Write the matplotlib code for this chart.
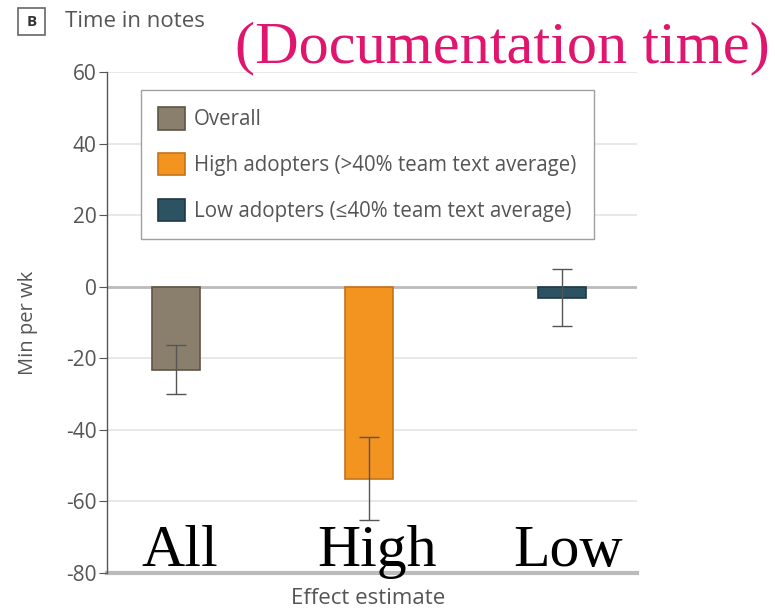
import matplotlib
matplotlib.use("Agg")
import matplotlib.pyplot as plt
from matplotlib.patches import Patch, Rectangle

# effect estimates (min per week) with 95% CI
groups = ["All", "High", "Low"]
legend_labels = ["Overall",
                 "High adopters (>40% team text average)",
                 "Low adopters (\u226440% team text average)"]
estimates = [-23.2, -53.7, -3.3]
ci_low = [-30.1, -65.1, -11.1]
ci_high = [-16.2, -42.0, 4.9]
yticks = [60, 40, 20, 0, -20, -40, -60, -80]

colors = ["#8a7f6c", "#f39320", "#2d5261"]
edges = ["#5e5546", "#c4731a", "#1e3a46"]
sans = ["Open Sans", "DejaVu Sans"]
grey = "#555555"

fig = plt.figure(figsize=(7.75, 6.14), dpi=100)
ax = fig.add_axes([0.138, 0.0668, 0.684, 0.816])

x = list(range(len(groups)))
ax.bar(x, estimates, width=0.25, color=colors, edgecolor=edges, linewidth=1.2, zorder=3)
yerr = [[e - lo for e, lo in zip(estimates, ci_low)],
        [hi - e for e, hi in zip(estimates, ci_high)]]
ax.errorbar(x, estimates, yerr=yerr, fmt="none", ecolor=grey,
            elinewidth=1.0, capsize=7, capthick=1.0, zorder=4)

ax.set_xlim(-0.36, 2.39)
ax.set_ylim(-80, 60)
ax.set_yticks(yticks)
ax.set_yticklabels([str(t) for t in yticks], fontsize=15, color=grey, family=sans)
ax.tick_params(axis="y", length=5.5, color=grey, pad=2)
ax.set_xticks([])

for t in yticks:
    if t == 0:
        ax.axhline(t, color="#bbbbbb", lw=2.0, zorder=1)
    elif t == -80:
        ax.axhline(t, color="#bbbbbb", lw=3.0, zorder=1, clip_on=False)
    else:
        ax.axhline(t, color="#e4e4e4", lw=1.2, zorder=1)

for s in ["top", "right", "bottom"]:
    ax.spines[s].set_visible(False)
ax.spines["left"].set_color(grey)
ax.spines["left"].set_linewidth(1.0)

ax.set_ylabel("Min per wk", fontsize=14.5, color=grey, family=sans)
ax.yaxis.set_label_coords(-0.13, 0.5)
ax.set_xlabel("Effect estimate", fontsize=16, color=grey, family=sans)
ax.xaxis.set_label_coords(0.4925, -0.03)

# large group names inside the plot
label_shift = [0.02, 0.04, 0.03]
for xi, g, dx in zip(x, groups, label_shift):
    ax.text(xi + dx, -78, g, ha="center", va="baseline", fontsize=43,
            family="Liberation Serif", color="black", zorder=5)

handles = [Patch(facecolor=c, edgecolor=e, linewidth=1.2) for c, e in zip(colors, edges)]
leg = ax.legend(handles, legend_labels, loc="upper left", bbox_to_anchor=(0.064, 0.964),
                borderaxespad=0, prop={"family": sans, "size": 14.8}, labelcolor=grey,
                frameon=True, fancybox=False, edgecolor="#a0a0a0", framealpha=1,
                handlelength=1.28, handleheight=1.28, labelspacing=1.1,
                borderpad=0.85, handletextpad=0.45)
leg.get_frame().set_linewidth(1.0)
leg.set_zorder(6)

# panel header
fig.patches.append(Rectangle((18 / 775, 1 - 35 / 614), 27 / 775, 27 / 614,
                             transform=fig.transFigure, fill=False,
                             edgecolor="#666666", linewidth=1.2))
fig.text(31.5 / 775, 1 - 21.5 / 614, "B", ha="center", va="center", fontsize=11,
         fontweight="bold", color="#333333", family=sans)
fig.text(65 / 775, 1 - 21.5 / 614, "Time in notes", ha="left", va="center",
         fontsize=16, color=grey, family=sans)
fig.text(235 / 775, 1 - 62 / 614, "(Documentation time)", ha="left", va="baseline",
         fontsize=43.5, color="#e0156e", family="Liberation Serif")

fig.savefig("out.png", dpi=100, facecolor="white")
